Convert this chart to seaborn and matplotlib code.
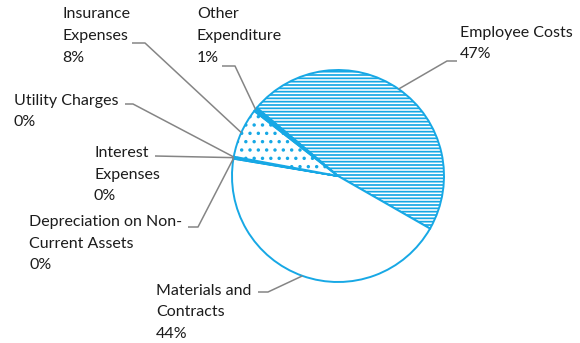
import numpy as np
import matplotlib
matplotlib.use("Agg")
import matplotlib.pyplot as plt
import seaborn as sns

# Expenditure breakdown (share of total, %)
categories = [
    "Employee Costs",
    "Materials and Contracts",
    "Depreciation on Non-Current Assets",
    "Interest Expenses",
    "Utility Charges",
    "Insurance Expenses",
    "Other Expenditure",
]
shares = [47.2, 44.4, 0.1, 0.1, 0.1, 7.6, 0.6]
label_lines = [
    ["Employee Costs"],
    ["Materials and", "Contracts"],
    ["Depreciation on Non-", "Current Assets"],
    ["Interest", "Expenses"],
    ["Utility Charges"],
    ["Insurance", "Expenses"],
    ["Other", "Expenditure"],
]

sns.set_theme(style="white")
plt.rcParams["font.family"] = ["Lato", "DejaVu Sans"]
plt.rcParams["hatch.linewidth"] = 1.25

W, H = 580, 343
fig = plt.figure(figsize=(W / 100, H / 100), dpi=100)
ax = fig.add_axes([0, 0, 1, 1])

BLUE = "#17A8E5"
LEADER = "#858585"
TEXT = "#1c1c1c"

faces = ["white", "white", BLUE, BLUE, BLUE, "white", BLUE]
hatches = ["-----", None, None, None, None, "..", None]

cx, cy, r = 338, H - 176, 106
wedges, _ = ax.pie(
    shares,
    startangle=140,
    counterclock=False,
    center=(cx, cy),
    radius=r,
    frame=True,
    wedgeprops=dict(edgecolor=BLUE, linewidth=1.4),
)
for w, fc, h in zip(wedges, faces, hatches):
    w.set_facecolor(fc)
    if h:
        w.set_hatch(h)

total = sum(shares)

# label placement: text origin (left, first baseline) and leader elbow/end, in pixels from top-left
layout = {
    "Employee Costs": dict(text=(460, 37), line=[(447, 61), (457, 61)]),
    "Materials and Contracts": dict(text=(156, 295), line=[(268, 292), (258, 292)]),
    "Depreciation on Non-Current Assets": dict(text=(29, 226), line=[(198, 227), (188, 227)]),
    "Interest Expenses": dict(text=(94, 157), line=[(155, 156)]),
    "Utility Charges": dict(text=(14, 105), line=[(133, 104), (125, 104)]),
    "Insurance Expenses": dict(text=(62, 18.5), line=[(145, 43), (132, 43)]),
    "Other Expenditure": dict(text=(197, 18.5), line=[(235, 66), (222, 66)]),
}
LINE_STEP = 21.5

for w, cat, lines, s in zip(wedges, categories, label_lines, shares):
    mid = np.deg2rad((w.theta1 + w.theta2) / 2)
    anchor = (cx + r * np.cos(mid), cy + r * np.sin(mid))
    spec = layout[cat]
    pts = [anchor] + [(x, H - y) for x, y in spec["line"]]
    xs, ys = zip(*pts)
    ax.plot(xs, ys, color=LEADER, lw=1.1, solid_capstyle="butt", zorder=1)
    pct = int(round(100 * s / total))
    tx, ty = spec["text"]
    for i, txt in enumerate(lines + [f"{pct}%"]):
        ax.text(tx, H - (ty + i * LINE_STEP), txt, ha="left", va="baseline",
                fontsize=11.5, color=TEXT)

ax.set_xlim(0, W)
ax.set_ylim(0, H)
ax.set_aspect("equal")
ax.axis("off")

fig.savefig("out.png", dpi=100, facecolor="white")
